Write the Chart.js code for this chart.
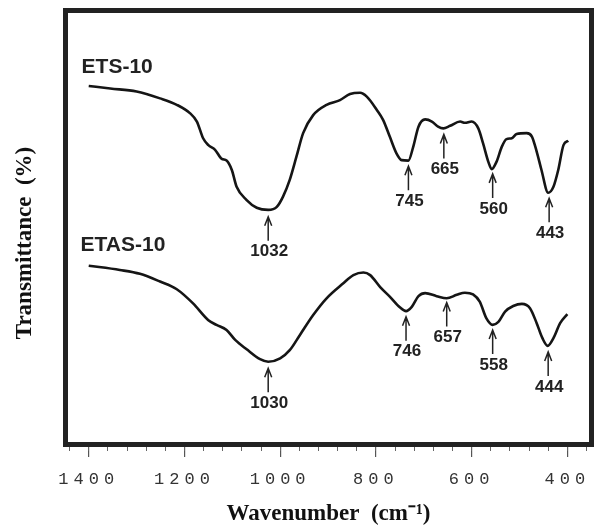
<!DOCTYPE html>
<html>
<head>
<meta charset="utf-8">
<script src="https://cdn.jsdelivr.net/npm/chart.js@4.4.1/dist/chart.umd.min.js"></script>
<style>
  html, body { margin: 0; padding: 0; background: #fff; }
</style>
</head>
<body>
<canvas id="irChart" width="604" height="529"></canvas>
<script>
// FTIR spectra: wavenumber (cm-1) and transmittance (arbitrary %)
const etsWave = [1400, 1355, 1300, 1251, 1216, 1188, 1174, 1161, 1150, 1136, 1122, 1112, 1101, 1091, 1070, 1049, 1025, 1007, 994, 980, 966, 952, 931, 903, 875, 854, 833, 819, 798, 785, 771, 757, 746, 732, 722, 711, 697, 683, 670, 659, 645, 624, 614, 600, 586, 576, 565, 558, 548, 537, 527, 516, 506, 485, 474, 464, 454, 440, 429, 419, 408, 398];
const etsTrans = [83.0, 82.4, 81.7, 80.1, 78.6, 76.6, 74.7, 70.8, 69.2, 68.1, 66.0, 65.6, 63.4, 59.5, 56.4, 54.6, 54.1, 54.8, 57.2, 61.1, 66.5, 72.0, 76.2, 78.6, 79.7, 81.1, 81.4, 80.5, 77.4, 75.1, 71.2, 67.3, 65.7, 65.6, 68.8, 73.5, 75.2, 74.7, 73.5, 73.1, 73.7, 74.7, 74.4, 74.7, 73.1, 69.6, 65.3, 63.6, 65.3, 68.8, 70.6, 70.8, 71.8, 72.0, 71.2, 67.7, 63.4, 58.1, 59.5, 63.4, 69.2, 70.2];

const etasWave = [1400, 1335, 1293, 1251, 1216, 1182, 1150, 1133, 1112, 1094, 1070, 1042, 1025, 1000, 980, 959, 931, 903, 868, 847, 826, 812, 791, 771, 750, 737, 725, 711, 697, 673, 652, 631, 614, 597, 583, 569, 556, 544, 530, 513, 495, 478, 464, 452, 441, 429, 415, 400];
const etasTrans = [41.1, 40.1, 39.2, 37.4, 35.6, 32.3, 28.4, 27.3, 26.1, 23.8, 21.6, 19.3, 18.7, 19.5, 21.4, 24.9, 29.6, 33.5, 37.0, 38.9, 39.5, 38.9, 36.1, 33.9, 31.4, 30.5, 31.5, 34.0, 34.7, 34.0, 33.5, 34.3, 34.8, 34.4, 32.7, 28.8, 27.3, 28.0, 30.4, 31.7, 32.2, 31.2, 27.7, 24.2, 22.4, 24.2, 27.7, 29.8];

// peak markers: label, where the arrow sits, transmittance at the arrow tip
const etsPeakLabels = ['1032', '745', '665', '560', '443'];
const etsPeakWave = [1025, 732, 658, 556, 438];
const etsPeakTip = [52.5, 64.3, 71.7, 62.5, 56.8];

const etasPeakLabels = ['1030', '746', '657', '558', '444'];
const etasPeakWave = [1025, 737, 652, 556, 440];
const etasPeakTip = [17.2, 29.2, 32.5, 26.1, 21.0];

const seriesNames = ['ETS-10', 'ETAS-10'];
const xTickValues = [1400, 1200, 1000, 800, 600, 400];

const toPoints = (xs, ys) => xs.map((v, i) => ({ x: v, y: ys[i] }));

function drawArrow(ctx, px, tipY) {
    ctx.beginPath();
    ctx.moveTo(px, tipY + 24);
    ctx.lineTo(px, tipY + 1);
    ctx.moveTo(px - 3.5, tipY + 9);
    ctx.lineTo(px, tipY);
    ctx.lineTo(px + 3.5, tipY + 9);
    ctx.stroke();
}

const peakPlugin = {
    id: 'peaks',
    beforeDraw(chart) {
        chart.ctx.letterSpacing = '0px';
    },
    afterDatasetsDraw(chart) {
        const { ctx, chartArea, scales: { x, y } } = chart;
        ctx.save();

        // heavy frame round the plot
        ctx.strokeStyle = '#222';
        ctx.lineWidth = 5;
        ctx.strokeRect(chartArea.left - 2.5, chartArea.top - 2.5, chartArea.width + 5, chartArea.height + 5);

        // arrows + numbers
        ctx.strokeStyle = '#222';
        ctx.fillStyle = '#222';
        ctx.lineWidth = 1.5;
        ctx.font = 'bold 17px "Liberation Sans", Arial, sans-serif';
        ctx.textAlign = 'center';
        ctx.textBaseline = 'middle';
        const groups = [
            [etsPeakLabels, etsPeakWave, etsPeakTip],
            [etasPeakLabels, etasPeakWave, etasPeakTip]
        ];
        groups.forEach(([labels, waves, tips]) => {
            labels.forEach((lab, i) => {
                const px = x.getPixelForValue(waves[i]);
                const py = y.getPixelForValue(tips[i]);
                drawArrow(ctx, px, py);
                ctx.fillText(lab, px + 1, py + 35);
            });
        });

        // series names
        ctx.font = 'bold 21px "Liberation Sans", Arial, sans-serif';
        ctx.textAlign = 'left';
        ctx.fillText(seriesNames[0], x.getPixelForValue(1415), y.getPixelForValue(87.3));
        ctx.fillText(seriesNames[1], x.getPixelForValue(1417), y.getPixelForValue(45.8));

        // y axis title
        ctx.translate(25, 243);
        ctx.rotate(-Math.PI / 2);
        ctx.textAlign = 'center';
        ctx.fillStyle = '#111';
        ctx.font = 'bold 23px "Liberation Serif", "Times New Roman", serif';
        ctx.fillText('Transmittance  (%)', 0, 0);
        ctx.restore();

        // spaced-out tick numbers (x ticks are drawn after this hook, z = 1)
        ctx.letterSpacing = '5px';
    },
    afterDraw(chart) {
        chart.ctx.letterSpacing = '0px';
    }
};

const ctx = document.getElementById('irChart').getContext('2d');
new Chart(ctx, {
    type: 'scatter',
    data: {
        datasets: [
            {
                label: seriesNames[0],
                data: toPoints(etsWave, etsTrans),
                showLine: true,
                borderColor: '#151515',
                borderWidth: 2.6,
                pointRadius: 0,
                cubicInterpolationMode: 'monotone'
            },
            {
                label: seriesNames[1],
                data: toPoints(etasWave, etasTrans),
                showLine: true,
                borderColor: '#151515',
                borderWidth: 2.6,
                pointRadius: 0,
                cubicInterpolationMode: 'monotone'
            }
        ]
    },
    options: {
        responsive: false,
        animation: false,
        layout: { padding: { left: 68, right: 15, top: 13, bottom: 0 } },
        plugins: {
            legend: { display: false },
            tooltip: { enabled: false }
        },
        scales: {
            x: {
                type: 'linear',
                reverse: true,
                min: 354.7,
                max: 1443.3,
                position: 'bottom',
                afterFit: s => { s.height = 87; },
                afterBuildTicks: s => { s.ticks = xTickValues.map(v => ({ value: v })); },
                border: { display: false },
                grid: { drawOnChartArea: false, drawTicks: true, tickLength: 15, color: '#555', lineWidth: 1.2 },
                ticks: {
                    z: 1,
                    maxRotation: 0,
                    autoSkip: false,
                    padding: 12,
                    color: '#333',
                    callback: v => String(v),
                    font: { family: '"Liberation Mono", "Courier New", monospace', size: 17 }
                },
                title: {
                    display: true,
                    text: 'Wavenumber  (cm\u207B\u00B9)',
                    color: '#111',
                    padding: { top: 0, bottom: 1 },
                    font: { family: '"Liberation Serif", "Times New Roman", serif', size: 23, weight: 'bold' }
                }
            },
            xMinor: {
                type: 'linear',
                reverse: true,
                min: 354.7,
                max: 1443.3,
                position: 'bottom',
                weight: -1,
                afterFit: s => { s.height = 0; },
                border: { display: false },
                grid: { drawOnChartArea: false, drawTicks: true, tickLength: 9, color: '#666', lineWidth: 1 },
                ticks: { display: false, stepSize: 40, includeBounds: false, autoSkip: false }
            },
            y: {
                display: false,
                min: 0,
                max: 100
            }
        }
    },
    plugins: [peakPlugin]
});
</script>
</body>
</html>
